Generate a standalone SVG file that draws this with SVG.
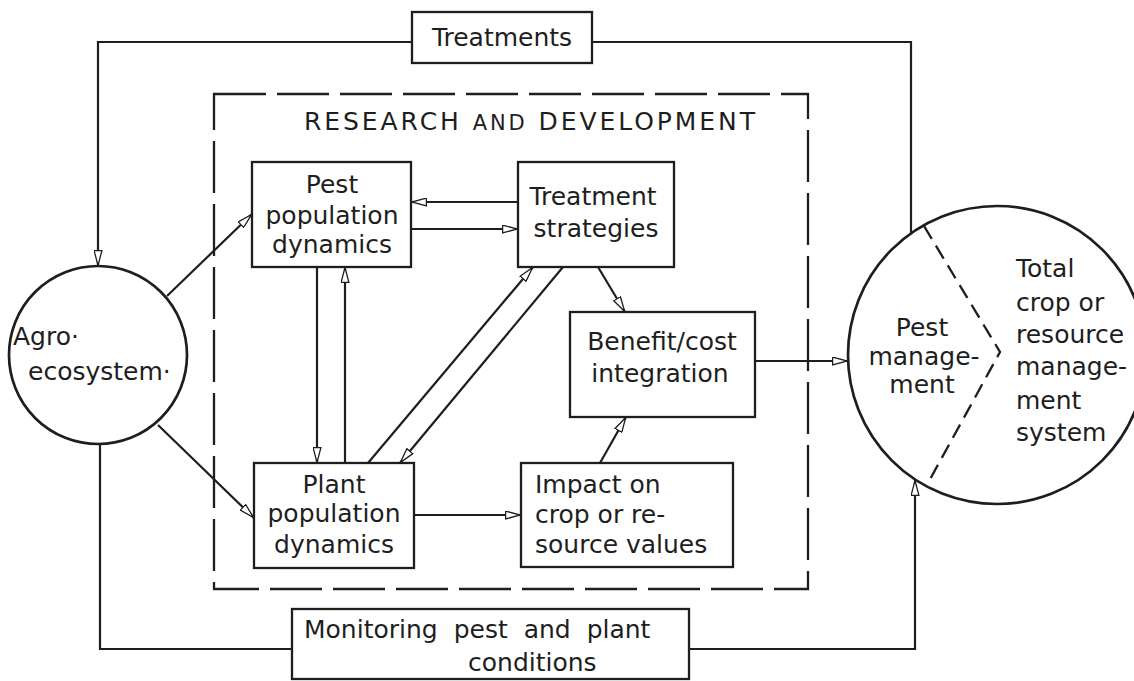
<svg xmlns="http://www.w3.org/2000/svg" width="1134" height="681" viewBox="0 0 1134 681">
<defs>
<style>
.box{fill:none;stroke:#1e1e1e;stroke-width:2.3}
.ln{fill:none;stroke:#1e1e1e;stroke-width:2.2}
.circ{fill:none;stroke:#1e1e1e;stroke-width:2.7}
.dash{fill:none;stroke:#1e1e1e;stroke-width:2.3;stroke-dasharray:52 11}
.div{fill:none;stroke:#1e1e1e;stroke-width:2.3;stroke-dasharray:15 8}
text{font-family:"DejaVu Sans","Liberation Sans",sans-serif;font-size:25px;fill:#1e1e1e}
.c{text-anchor:middle}
</style>
<marker id="arr" viewBox="0 0 16 9" refX="16" refY="4.5" markerWidth="16" markerHeight="9" markerUnits="userSpaceOnUse" orient="auto">
<path d="M0.6,0.6 L15.4,4.5 L0.6,8.4 Z" fill="#fff" stroke="#1e1e1e" stroke-width="1.3"/>
</marker>
</defs>
<rect width="1134" height="681" fill="#fff"/>

<g id="rnd">
<rect class="dash" x="214" y="94" width="594" height="495"/>
<text x="304" y="130" font-size="27" textLength="451" lengthAdjust="spacing">RESEARCH <tspan font-size="21">AND</tspan> DEVELOPMENT</text>
</g>

<g id="treatments">
<rect class="box" x="412" y="12" width="180" height="51"/>
<text class="c" x="502" y="46" font-size="26">Treatments</text>
</g>

<g id="agro">
<circle class="circ" cx="98" cy="355" r="89"/>
<text x="13" y="345">Agro·</text>
<text x="28" y="380">ecosystem·</text>
</g>

<g id="pest">
<rect class="box" x="252" y="162" width="159" height="105"/>
<text class="c" x="332" y="193">Pest</text>
<text class="c" x="332" y="224">population</text>
<text class="c" x="332" y="253">dynamics</text>
</g>

<g id="treatstrat">
<rect class="box" x="518" y="162" width="156" height="105"/>
<text class="c" x="593" y="205">Treatment</text>
<text class="c" x="596" y="237">strategies</text>
</g>

<g id="benefit">
<rect class="box" x="570" y="312" width="185" height="105"/>
<text class="c" x="662" y="350">Benefit/cost</text>
<text class="c" x="660" y="382">integration</text>
</g>

<g id="plant">
<rect class="box" x="254" y="463" width="160" height="105"/>
<text class="c" x="334" y="493">Plant</text>
<text class="c" x="334" y="522">population</text>
<text class="c" x="334" y="553">dynamics</text>
</g>

<g id="impact">
<rect class="box" x="521" y="463" width="212" height="104"/>
<text x="535" y="493">Impact on</text>
<text x="535" y="523">crop or re-</text>
<text x="535" y="553">source values</text>
</g>

<g id="monitoring">
<rect class="box" x="292" y="609" width="397" height="70"/>
<text x="304" y="638" font-size="26" word-spacing="8">Monitoring pest and plant</text>
<text x="468" y="671" font-size="26">conditions</text>
</g>

<g id="system">
<circle class="circ" cx="997" cy="355" r="149"/>
<path class="div" d="M924,226 L1000,352 L928,483"/>
<text class="c" x="922" y="336" font-size="26">Pest</text>
<text class="c" x="924" y="365" font-size="26">manage-</text>
<text class="c" x="922" y="393" font-size="26">ment</text>
<text x="1016" y="277">Total</text>
<text x="1016" y="311">crop or</text>
<text x="1016" y="343">resource</text>
<text x="1016" y="375">manage-</text>
<text x="1016" y="409">ment</text>
<text x="1016" y="441">system</text>
</g>

<g id="connectors">
<polyline class="ln" points="911,233 911,42 592,42"/>
<polyline class="ln" points="412,42 98,42 98,266" marker-end="url(#arr)"/>
<line class="ln" x1="167" y1="296" x2="252" y2="214" marker-end="url(#arr)"/>
<line class="ln" x1="158" y1="425" x2="254" y2="518" marker-end="url(#arr)"/>
<line class="ln" x1="518" y1="202" x2="411" y2="202" marker-end="url(#arr)"/>
<line class="ln" x1="411" y1="229" x2="518" y2="229" marker-end="url(#arr)"/>
<line class="ln" x1="317" y1="267" x2="317" y2="463" marker-end="url(#arr)"/>
<line class="ln" x1="345" y1="463" x2="345" y2="267" marker-end="url(#arr)"/>
<line class="ln" x1="368" y1="463" x2="533" y2="267" marker-end="url(#arr)"/>
<line class="ln" x1="563" y1="267" x2="400" y2="463" marker-end="url(#arr)"/>
<line class="ln" x1="598" y1="267" x2="625" y2="312" marker-end="url(#arr)"/>
<line class="ln" x1="600" y1="463" x2="626" y2="417" marker-end="url(#arr)"/>
<line class="ln" x1="414" y1="515" x2="521" y2="515" marker-end="url(#arr)"/>
<line class="ln" x1="755" y1="361" x2="848" y2="361" marker-end="url(#arr)"/>
<polyline class="ln" points="100,444 100,649 292,649"/>
<polyline class="ln" points="689,649 915,649 915,480" marker-end="url(#arr)"/>
</g>
</svg>
